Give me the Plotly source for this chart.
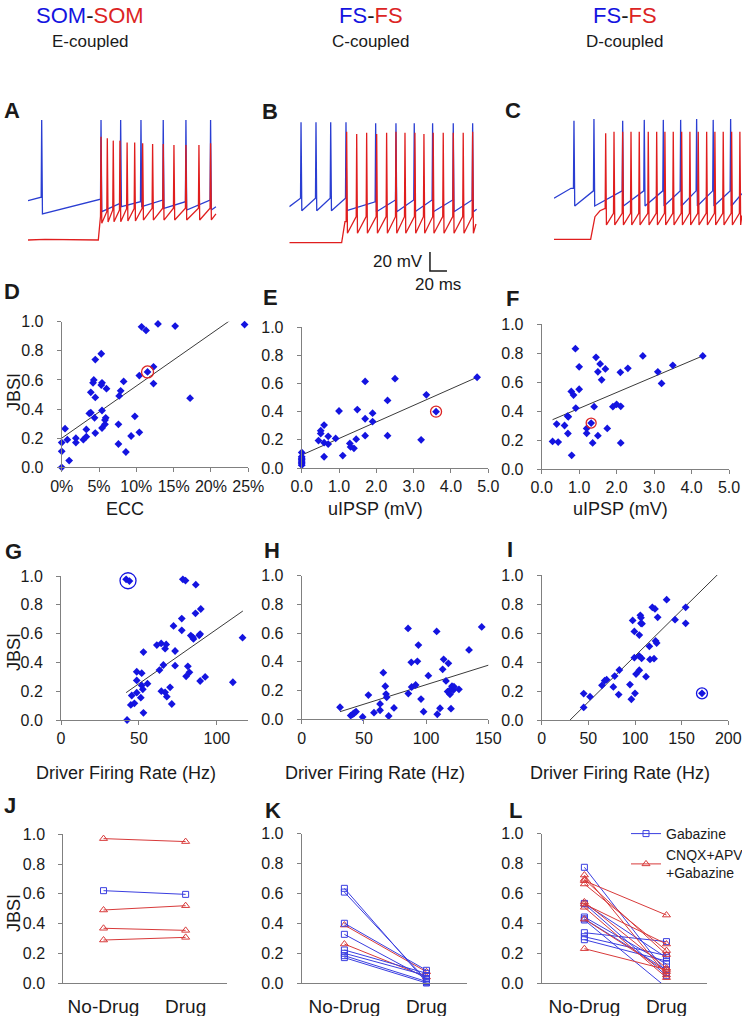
import plotly.graph_objects as go

FONT = "Arial, 'Liberation Sans', sans-serif"
W, H = 742, 1016
BLUE = "#1414e0"
RED = "#dc2424"
TRACE_BLUE = "#2a3ed2"
TRACE_RED = "#e01e1e"
AXIS_GREY = "#808080"
INK = "#1a1a1a"

# ---------------------------------------------------------------- traces A-C
# times in ms, voltages in mV (display offsets as in the figure)
A_BLUE_LEAD_T = [0.0, 13.3]
A_BLUE_LEAD_V = [-28.6, -25.0]
A_BLUE_SPIKE_T = [16.1, 85.9, 109.0, 132.9, 159.1, 185.8, 214.8]
A_BLUE_PRE = [-25.0, -27.1, -31.4, -29.7, -27.9, -29.7, -27.9]
A_BLUE_PEAK = [56.4, 56.4, 56.4, 56.4, 56.4, 56.4, 56.4]
A_BLUE_TROUGH = [-42.6, -40.2, -34.9, -34.9, -36.6, -38.4, -38.4]
A_BLUE_END = (221.1, -34.9)

A_RED_LEAD_T = [0.0, 20.0, 82.7, 84.6]
A_RED_LEAD_V = [-70.0, -69.3, -70.0, -45.0]
A_RED_SPIKE_T = [85.9, 93.3, 100.3, 108.2, 116.6, 125.5, 134.9, 146.6, 159.1, 171.7, 185.8, 201.1, 214.8]
A_RED_PRE = [-45.0, -40.2, -38.4, -38.4, -37.0, -37.0, -36.6, -36.6, -36.6, -36.6, -36.6, -36.6, -36.6]
A_RED_PEAK = [38.8, 37.0, 34.6, 34.6, 32.5, 32.5, 31.8, 31.1, 31.1, 30.0, 30.0, 30.0, 31.8]
A_RED_TROUGH = [-52.4, -51.0, -50.7, -50.7, -50.0, -50.0, -49.0, -49.0, -49.0, -49.0, -49.0, -49.0, -48.9]
A_RED_END = (221.1, -42.6)

B_BLUE_LEAD_T = [0.0]
B_BLUE_LEAD_V = [-32.1]
B_BLUE_SPIKE_T = [13.8, 31.4, 48.7, 66.7, 101.6, 125.5, 147.0, 168.6, 192.9, 215.7]
B_BLUE_PRE = [-23.2, -23.2, -23.2, -23.2, -27.0, -25.0, -25.0, -25.0, -25.0, -25.0]
B_BLUE_PEAK = [56.8, 56.8, 56.8, 56.8, 55.7, 55.7, 55.7, 55.7, 55.7, 55.7]
B_BLUE_TROUGH = [-36.3, -36.3, -36.3, -36.3, -37.4, -37.4, -37.4, -37.4, -37.4, -37.4]
B_BLUE_END = (220.4, -34.8)

B_RED_LEAD_T = [0.0, 61.6, 65.5]
B_RED_LEAD_V = [-70.0, -70.0, -47.9]
B_RED_SPIKE_T = [67.5, 79.3, 91.0, 102.8, 114.5, 125.5, 136.1, 147.8, 158.4, 169.3, 181.1, 192.9, 204.6, 215.7]
B_RED_PRE = [-47.9] + [-42.6] * 13
B_RED_PEAK = [46.9, 44.5, 45.7, 44.5, 45.7, 46.9, 45.7, 45.7, 44.5, 45.7, 45.7, 45.7, 45.7, 46.9]
B_RED_TROUGH = [-60.1] * 14
B_RED_END = (219.6, -50.3)

C_BLUE_LEAD_T = [0.0, 20.0]
C_BLUE_LEAD_V = [-26.8, -16.3]
C_BLUE_SPIKE_T = [23.5, 47.0, 80.8, 106.2, 128.6, 149.0, 167.8, 187.3, 207.8]
C_BLUE_PRE = [-16.3, -19.0, -19.0, -19.0, -19.0, -19.0, -19.0, -19.0, -19.0]
C_BLUE_PEAK = [54.9, 56.6, 54.9, 55.7, 55.7, 55.7, 56.6, 55.7, 56.6]
C_BLUE_TROUGH = [-34.9] * 9
C_BLUE_END = (221.0, -22.0)

C_RED_LEAD_T = [0.0, 43.1, 48.2, 54.1, 59.5]
C_RED_LEAD_V = [-70.0, -70.0, -46.2, -39.9, -37.7]
C_RED_SPIKE_T = [60.8, 70.6, 80.8, 90.6, 100.3, 110.9, 120.8, 130.5, 140.3, 150.2, 159.9,
                 169.7, 179.6, 189.3, 199.1, 209.0, 218.7]
C_RED_PRE = [-37.7] + [-42.6] * 16
C_RED_PEAK = [41.6] + [43.3] * 16
C_RED_TROUGH = [-54.9] * 17
C_RED_END = (221.0, -45.0)

SCALE_MS = 20
SCALE_MV = 20
SCALE_ORIGIN = (165.5, -99.8)

# ---------------------------------------------------------------- D: JBSI vs ECC (%)
D_TICKS = [0, 5, 10, 15, 20, 25]
D_TICKTEXT = ["0%", "5%", "10%", "15%", "20%", "25%"]
D_X = [0, 0, 0, 0.45, 0.76, 1.0, 1.9, 1.9, 2.9, 3.3, 3.3, 3.7, 3.9, 3.9, 4.2, 4.3, 4.4, 4.5,
       4.5, 4.5, 5.3, 5.4, 5.3, 5.4, 5.4, 5.8, 5.8, 5.9, 6.0, 7.6, 7.6, 7.7, 7.9, 8.3, 8.6,
       9.3, 9.8, 10.4, 10.4, 10.7, 11.3, 11.5, 12.3, 12.3, 12.9, 15.2, 17.2, 24.5]
D_Y = [0.0, 0.11, 0.17, 0.265, 0.19, 0.046, 0.20, 0.17, 0.19, 0.21, 0.26, 0.37, 0.375,
       0.515, 0.58, 0.60, 0.34, 0.48, 0.74, 0.235, 0.78, 0.58, 0.565, 0.39, 0.27, 0.295,
       0.325, 0.34, 0.54, 0.295, 0.16, 0.49, 0.525, 0.59, 0.105, 0.215, 0.35, 0.24, 0.63,
       0.965, 0.94, 0.655, 0.69, 0.575, 0.985, 0.97, 0.475, 0.98]
D_FIT_X = [0, 22.6]
D_FIT_Y = [0.2, 1.01]
D_MARK = ([11.5], [0.655])

# ---------------------------------------------------------------- E: JBSI vs uIPSP
E_X = [0, 0, 0, 0, 0, 0, 0, 0, 0.45, 0.51, 0.51, 0.6, 0.6, 0.6, 0.71, 0.71, 0.91, 1.0, 1.1,
       1.29, 1.31, 1.4, 1.46, 1.49, 1.7, 1.7, 1.7, 1.9, 1.9, 2.3, 2.3, 2.5, 3.2, 3.34, 3.6, 4.7]
E_Y = [0.11, 0.02, 0.03, 0.04, 0.05, 0.06, 0.07, 0.08, 0.195, 0.245, 0.265, 0.305, 0.18,
       0.08, 0.225, 0.17, 0.21, 0.405, 0.088, 0.175, 0.15, 0.14, 0.205, 0.415, 0.35, 0.615,
       0.23, 0.39, 0.33, 0.48, 0.23, 0.635, 0.2, 0.52, 0.40, 0.645]
E_FIT_X = [0, 4.7]
E_FIT_Y = [0.092, 0.645]
E_MARK = ([3.6], [0.40])

# ---------------------------------------------------------------- F: JBSI vs uIPSP
F_X = [0.29, 0.4, 0.44, 0.61, 0.69, 0.71, 0.7, 0.8, 0.79, 0.85, 0.9, 0.91, 1.0, 1.0, 1.2,
       1.2, 1.32, 1.36, 1.4, 1.45, 1.5, 1.5, 1.56, 1.6, 1.7, 1.75, 1.9, 2.0, 2.1, 2.11, 2.11,
       2.3, 2.7, 3.1, 3.2, 3.5, 4.3]
F_Y = [0.19, 0.31, 0.186, 0.30, 0.365, 0.36, 0.245, 0.094, 0.535, 0.51, 0.83, 0.42, 0.705,
       0.55, 0.28, 0.246, 0.317, 0.18, 0.43, 0.77, 0.67, 0.23, 0.725, 0.615, 0.69, 0.28,
       0.43, 0.446, 0.667, 0.432, 0.18, 0.694, 0.78, 0.67, 0.59, 0.715, 0.78]
F_FIT_X = [0.29, 4.3]
F_FIT_Y = [0.34, 0.78]
F_MARK = ([1.32], [0.317])

# ---------------------------------------------------------------- G: JBSI vs driver rate
G_X = [42.4, 41.8, 43.9, 45.4, 44.8, 47.1, 48.6, 48.6, 48.6, 51.2, 51.8, 51.8, 52.5, 52.9,
       52.9, 55.5, 61.5, 63.2, 64.3, 64.4, 65.7, 66.8, 67.5, 66.8, 67.9, 70.0, 71.1, 72.2,
       73.2, 73.2, 77.5, 77.5, 78.2, 79.9, 80.3, 81.4, 82.4, 83.3, 84.6, 85.0, 86.3, 86.5,
       88.7, 89.3, 89.3, 89.7, 92.5, 110.3, 116.5]
G_Y = [0.0, 0.977, 0.965, 0.17, 0.105, 0.116, 0.19, 0.275, 0.335, 0.155, 0.325, 0.24, 0.213,
       0.05, 0.472, 0.252, 0.52, 0.347, 0.532, 0.2, 0.382, 0.495, 0.525, 0.192, 0.162, 0.227,
       0.111, 0.653, 0.479, 0.377, 0.704, 0.623, 0.977, 0.968, 0.303, 0.373, 0.331, 0.586,
       0.574, 0.563, 0.741, 0.94, 0.588, 0.597, 0.271, 0.771, 0.299, 0.262, 0.572]
G_FIT_X = [41.8, 116.7]
G_FIT_Y = [0.19, 0.757]
G_MARK = ([43.0], [0.967])

# ---------------------------------------------------------------- H: JBSI vs driver rate
H_X = [30.8, 39.4, 41.0, 42.3, 43.7, 49.0, 53.6, 58.1, 63.0, 63.0, 65.6, 67.2, 67.8, 68.3,
       69.9, 74.2, 85.5, 85.7, 88.1, 88.4, 91.6, 93.0, 93.8, 95.9, 98.0, 101.8, 108.5, 109.0,
       111.2, 113.3, 114.1, 116.0, 117.3, 117.9, 118.7, 119.2, 120.0, 120.8, 121.9, 122.4,
       126.4, 134.5, 144.7]
H_Y = [0.084, 0.026, 0.035, 0.044, 0.053, 0.016, 0.169, 0.046, 0.063, 0.107, 0.325, 0.23,
       0.176, 0.153, 0.023, 0.079, 0.633, 0.179, 0.397, 0.225, 0.239, 0.404, 0.517, 0.141,
       0.053, 0.304, 0.612, 0.035, 0.077, 0.348, 0.418, 0.267, 0.193, 0.39, 0.2, 0.174,
       0.074, 0.23, 0.204, 0.227, 0.209, 0.483, 0.643]
H_FIT_X = [30.8, 150.5]
H_FIT_Y = [0.053, 0.378]

# ---------------------------------------------------------------- I: JBSI vs driver rate
I_X = [45, 45, 51.8, 64.6, 67.5, 69.6, 76.8, 78.2, 83.2, 82.5, 94.6, 96.1, 97.5, 99.3, 99.3,
       100, 101.1, 104.6, 104.6, 105.7, 106.4, 106.4, 107.5, 107.1, 104.6, 111.8, 115.4,
       116.1, 118.6, 121.4, 120.4, 122.1, 123.2, 124.3, 133.9, 142.9, 154.3, 154.3, 171.8]
I_Y = [0.182, 0.087, 0.161, 0.239, 0.271, 0.278, 0.228, 0.303, 0.345, 0.175, 0.244, 0.143,
       0.687, 0.611, 0.43, 0.184, 0.317, 0.586, 0.441, 0.722, 0.706, 0.667, 0.664, 0.425,
       0.343, 0.299, 0.508, 0.418, 0.777, 0.766, 0.423, 0.545, 0.531, 0.708, 0.83, 0.692,
       0.777, 0.667, 0.184]
I_FIT_X = [30.4, 188.9]
I_FIT_Y = [0.0, 1.005]
I_MARK = ([171.8], [0.184])

# ---------------------------------------------------------------- J-L: No-Drug vs Drug
CONDITIONS = ["No-Drug", "Drug"]
J_BLUE_ND = [0.621]
J_BLUE_D = [0.596]
J_RED_ND = [0.971, 0.491, 0.368, 0.289]
J_RED_D = [0.951, 0.520, 0.354, 0.307]

K_BLUE_ND = [0.634, 0.609, 0.400, 0.326, 0.221, 0.199, 0.183, 0.170]
K_BLUE_D = [0.005, 0.020, 0.085, 0.030, 0.065, 0.050, 0.010, 0.000]
K_RED_ND = [0.388, 0.261]
K_RED_D = [0.075, 0.040]

L_BLUE_ND = [0.775, 0.533, 0.442, 0.422, 0.337, 0.310, 0.290, 0.430, 0.530]
L_BLUE_D = [0.070, 0.170, 0.127, -0.030, 0.277, 0.183, 0.147, 0.087, 0.049]
L_RED_ND = [0.723, 0.694, 0.685, 0.663, 0.543, 0.529, 0.507, 0.428, 0.230]
L_RED_D = [0.054, 0.190, 0.455, 0.217, 0.100, 0.261, 0.036, 0.076, 0.090]

MS_PER_PX = 20 / 17
MV_PER_PX = 20 / 19

fig = go.Figure()


def px(x):
    return x / W


def py(y):
    return 1 - y / H


def ax_id(n):
    return "" if n == 1 else str(n)


def spike_train(lead_t, lead_v, times, pre, peak, trough, end):
    ts, vs = list(lead_t), list(lead_v)
    for t, p, pk, tr in zip(times, pre, peak, trough):
        ts += [t - 0.6, t, t + 0.9]
        vs += [p, pk, tr]
    ts.append(end[0])
    vs.append(end[1])
    return ts, vs


def trace_axes(n, x0, x1, ytop, ybot, yref):
    s = ax_id(n)
    fig.update_layout(**{
        f"xaxis{s}": dict(domain=[px(x0), px(x1)], anchor=f"y{s}", visible=False,
                          range=[0, (x1 - x0) * MS_PER_PX]),
        f"yaxis{s}": dict(domain=[py(ybot), py(ytop)], anchor=f"x{s}", visible=False,
                          range=[-70 - (ybot - yref) * MV_PER_PX,
                                 -70 + (yref - ytop) * MV_PER_PX]),
    })


def axis_style(**kw):
    base = dict(showline=True, linecolor=AXIS_GREY, linewidth=1, ticks="outside",
                ticklen=4, tickcolor=AXIS_GREY, showgrid=False, zeroline=False,
                tickfont=dict(family=FONT, size=16, color=INK))
    base.update(kw)
    return base


def data_axes(n, x0, x1, ytop, ybot, xkw):
    s = ax_id(n)
    xkw = dict(xkw)
    xkw.setdefault("ticklabelstandoff", 0)
    fig.update_layout(**{
        f"xaxis{s}": axis_style(domain=[px(x0), px(x1)], anchor=f"y{s}", **xkw),
        f"yaxis{s}": axis_style(domain=[py(ybot), py(ytop)], anchor=f"x{s}", range=[0, 1],
                                tickvals=[0, 0.2, 0.4, 0.6, 0.8, 1.0], tickformat=".1f",
                                ticklabelstandoff=10),
    })


def add_line(n, t, v, color, width=1.3):
    s = ax_id(n)
    fig.add_scatter(x=t, y=v, mode="lines", line=dict(color=color, width=width),
                    xaxis=f"x{s}", yaxis=f"y{s}", showlegend=False, hoverinfo="skip")


def add_scatter_panel(n, xs, ys, fit_x, fit_y, mark=None, mark_color=RED, mark_size=12):
    s = ax_id(n)
    fig.add_scatter(x=fit_x, y=fit_y, mode="lines", line=dict(color="#3a3a3a", width=1),
                    xaxis=f"x{s}", yaxis=f"y{s}", showlegend=False)
    fig.add_scatter(x=xs, y=ys, mode="markers", cliponaxis=False,
                    marker=dict(symbol="diamond", size=6, color=BLUE),
                    xaxis=f"x{s}", yaxis=f"y{s}", showlegend=False)
    if mark:
        fig.add_scatter(x=mark[0], y=mark[1], mode="markers", cliponaxis=False,
                        marker=dict(symbol="circle-open", size=mark_size,
                                    line=dict(color=mark_color, width=1.3), color=mark_color),
                        xaxis=f"x{s}", yaxis=f"y{s}", showlegend=False)


def paired(nd, d):
    xs, ys = [], []
    for a, b in zip(nd, d):
        xs += [0, 1, None]
        ys += [a, b, None]
    return xs, ys


def add_pairs(n, nd, d, color, symbol, size, name=None, legend=False):
    s = ax_id(n)
    xs, ys = paired(nd, d)
    fig.add_scatter(x=xs, y=ys, mode="lines+markers", cliponaxis=False, name=name,
                    line=dict(color=color, width=1),
                    marker=dict(symbol=symbol, size=size, color=color,
                                line=dict(color=color, width=1)),
                    xaxis=f"x{s}", yaxis=f"y{s}", showlegend=legend)


# ---- trace panels
trace_axes(1, 28, 222, 112, 246, 240)
trace_axes(2, 289.3, 482, 112, 276, 242.7)
trace_axes(3, 554, 742, 112, 246, 239.3)

for n, groups in [
    (1, [(A_BLUE_LEAD_T, A_BLUE_LEAD_V, A_BLUE_SPIKE_T, A_BLUE_PRE, A_BLUE_PEAK, A_BLUE_TROUGH, A_BLUE_END, TRACE_BLUE),
         (A_RED_LEAD_T, A_RED_LEAD_V, A_RED_SPIKE_T, A_RED_PRE, A_RED_PEAK, A_RED_TROUGH, A_RED_END, TRACE_RED)]),
    (2, [(B_BLUE_LEAD_T, B_BLUE_LEAD_V, B_BLUE_SPIKE_T, B_BLUE_PRE, B_BLUE_PEAK, B_BLUE_TROUGH, B_BLUE_END, TRACE_BLUE),
         (B_RED_LEAD_T, B_RED_LEAD_V, B_RED_SPIKE_T, B_RED_PRE, B_RED_PEAK, B_RED_TROUGH, B_RED_END, TRACE_RED)]),
    (3, [(C_BLUE_LEAD_T, C_BLUE_LEAD_V, C_BLUE_SPIKE_T, C_BLUE_PRE, C_BLUE_PEAK, C_BLUE_TROUGH, C_BLUE_END, TRACE_BLUE),
         (C_RED_LEAD_T, C_RED_LEAD_V, C_RED_SPIKE_T, C_RED_PRE, C_RED_PEAK, C_RED_TROUGH, C_RED_END, TRACE_RED)]),
]:
    for lt, lv, st, pre, pk, tr, end, color in groups:
        t, v = spike_train(lt, lv, st, pre, pk, tr, end)
        add_line(n, t, v, color)

# scale bar in B's frame
t0, v0 = SCALE_ORIGIN
add_line(2, [t0, t0, t0 + SCALE_MS], [v0 + SCALE_MV, v0, v0], INK, width=1.5)
fig.add_annotation(x=t0, y=v0 + SCALE_MV / 2, xref="x2", yref="y2", text=f"{SCALE_MV} mV",
                   showarrow=False, xanchor="right", yanchor="middle", xshift=-5,
                   font=dict(size=17, family=FONT, color=INK))
fig.add_annotation(x=t0 + SCALE_MS / 2, y=v0, xref="x2", yref="y2", text=f"{SCALE_MS} ms",
                   showarrow=False, xanchor="center", yanchor="top", yshift=-2,
                   font=dict(size=17, family=FONT, color=INK))

# ---- D-F
data_axes(4, 61.7, 248.3, 321.7, 467.3,
          dict(range=[0, 25], tickvals=D_TICKS, ticktext=D_TICKTEXT))
data_axes(5, 301.7, 488.3, 327.3, 468, dict(range=[0, 5], dtick=1, tickformat=".1f"))
data_axes(6, 541.7, 729, 324, 469, dict(range=[0, 5], dtick=1, tickformat=".1f"))
add_scatter_panel(4, D_X, D_Y, D_FIT_X, D_FIT_Y, D_MARK, RED, 12)
add_scatter_panel(5, E_X, E_Y, E_FIT_X, E_FIT_Y, E_MARK, RED, 11)
add_scatter_panel(6, F_X, F_Y, F_FIT_X, F_FIT_Y, F_MARK, RED, 10)

# ---- G-I
data_axes(7, 61, 248, 576, 720, dict(range=[0, 120], tickvals=[0, 50, 100]))
data_axes(8, 301.7, 488.3, 575.7, 719.3, dict(range=[0, 150], tickvals=[0, 50, 100, 150]))
data_axes(9, 541.7, 728.3, 575, 720, dict(range=[0, 200], tickvals=[0, 50, 100, 150, 200]))
add_scatter_panel(7, G_X, G_Y, G_FIT_X, G_FIT_Y, G_MARK, BLUE, 16)
add_scatter_panel(8, H_X, H_Y, H_FIT_X, H_FIT_Y)
add_scatter_panel(9, I_X, I_Y, I_FIT_X, I_FIT_Y, I_MARK, BLUE, 11)

# ---- J-L
cat_x = dict(tickvals=[0, 1], ticktext=CONDITIONS, ticks="", ticklabelstandoff=6,
             tickfont=dict(family=FONT, size=19, color=INK))
data_axes(10, 63.3, 226.7, 834.3, 983, dict(range=[-0.49, 1.5], **cat_x))
data_axes(11, 301.7, 466.7, 833.7, 983, dict(range=[-0.52, 1.49], **cat_x))
data_axes(12, 541.7, 706.7, 833.7, 983, dict(range=[-0.52, 1.49], **cat_x))
LINE_BLUE = "#3a3ee0"
LINE_RED = "#d83a3a"
add_pairs(10, J_RED_ND, J_RED_D, LINE_RED, "triangle-up-open", 7)
add_pairs(10, J_BLUE_ND, J_BLUE_D, LINE_BLUE, "square-open", 6)
add_pairs(11, K_RED_ND, K_RED_D, LINE_RED, "triangle-up-open", 7)
add_pairs(11, K_BLUE_ND, K_BLUE_D, LINE_BLUE, "square-open", 6)
add_pairs(12, L_BLUE_ND, L_BLUE_D, LINE_BLUE, "square-open", 6, "Gabazine", True)
add_pairs(12, L_RED_ND, L_RED_D, LINE_RED, "triangle-up-open", 7, "CNQX+APV<br>+Gabazine", True)


# ---- text
def label(x, y, text, size, **kw):
    fig.add_annotation(x=px(x), y=py(y), xref="paper", yref="paper", text=text,
                       showarrow=False, xanchor="center", yanchor="middle",
                       font=dict(size=size, family=FONT, color=INK), **kw)


for x, pair, sub in [(90, ("SOM", "SOM"), "E-coupled"), (371, ("FS", "FS"), "C-coupled"),
                     (625, ("FS", "FS"), "D-coupled")]:
    label(x, 16, f"<span style='color:{BLUE}'>{pair[0]}</span>-"
                 f"<span style='color:{RED}'>{pair[1]}</span>", 22)
    label(x, 41, sub, 17)

for letter, x, y in [("A", 12, 110), ("B", 270, 111), ("C", 513, 110),
                     ("D", 12, 292), ("E", 270, 298), ("F", 512, 299),
                     ("G", 13, 551), ("H", 272, 550), ("I", 510, 549),
                     ("J", 10, 805), ("K", 273, 810), ("L", 515, 810)]:
    label(x, y, f"<b>{letter}</b>", 22)

label(125, 509, "ECC", 18)
label(375, 509, "uIPSP (mV)", 18)
label(620, 509, "uIPSP (mV)", 18)
for x in (126, 375, 620):
    label(x, 773, "Driver Firing Rate (Hz)", 18)
for y in (392, 652, 913):
    label(14, y, "JBSI", 18, textangle=-90)

fig.update_layout(
    width=W, height=H,
    margin=dict(l=0, r=0, t=0, b=0, autoexpand=False),
    paper_bgcolor="white", plot_bgcolor="white",
    font=dict(family=FONT, color=INK),
    legend=dict(x=px(626), y=py(818), xanchor="left", yanchor="top",
                font=dict(size=14, family=FONT, color=INK), bgcolor="rgba(0,0,0,0)",
                tracegroupgap=2, itemwidth=30),
)

# the page's default 8px body margin would push the 742x1016 figure off the window
fig.write_html("out.html", config={"displayModeBar": False},
               post_script="document.body.style.margin = '0';")
